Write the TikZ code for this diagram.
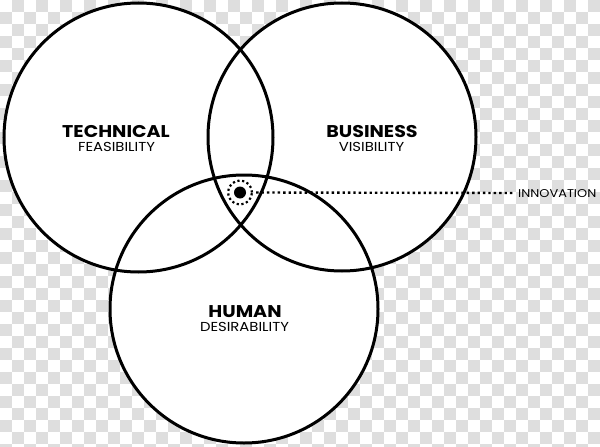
\documentclass[tikz,border=0pt]{standalone}
\usepackage{fontspec}
\setmainfont{Poppins}
\newfontfamily\headfont[FakeStretch=1.12]{Poppins}
\newfontfamily\subfont[FakeStretch=1.14]{Poppins}
\definecolor{checkgray}{HTML}{DEDEDE}
\tikzset{
  venn/.style={line width=3pt, draw=black},
  title/.style={font=\headfont\fontsize{17}{17}\selectfont\bfseries, anchor=base, inner sep=0pt},
  sub/.style={font=\subfont\fontsize{13}{13}\selectfont, anchor=base, inner sep=0pt},
  dotline/.style={line width=2.4pt, dash pattern=on 2.4pt off 3pt},
}
\begin{document}
\begin{tikzpicture}[x=1pt,y=-1pt]
\useasboundingbox (0,0) rectangle (600,447);
% checkerboard background
\fill[white] (0,0) rectangle (600,447);
\foreach \i in {0,...,49}{
  \foreach \j in {0,...,37}{
    \pgfmathtruncatemacro{\myparity}{mod(\i+\j,2)}
    \ifnum\myparity=1
      \fill[checkgray] (\i*12,\j*12) rectangle ++(12,12);
    \fi
  }
}
% circles
\coordinate (ct) at (138.5,137.5);
\coordinate (cb) at (342,137);
\coordinate (ch) at (244,309);
\fill[white] (ct) circle (134.5);
\fill[white] (cb) circle (134);
\fill[white] (ch) circle (134);
\draw[venn] (ct) circle (134.5);
\draw[venn] (cb) circle (134);
\draw[venn] (ch) circle (134);
% labels
\node[title] (tt) at (116,137) {TECHNICAL};
\node[sub] (ts) at (116.5,151) {FEASIBILITY};
\node[title] (bt) at (372,137) {BUSINESS};
\node[sub] (bs) at (371.5,151) {VISIBILITY};
\node[title] (ht) at (245,317) {HUMAN};
\node[sub] (hs) at (244.5,331) {DESIRABILITY};
% innovation
\node[circle, fill=black, minimum size=12pt, inner sep=0pt] (dot) at (240,192.5) {};
\node[circle, minimum size=24pt, inner sep=0pt, draw, line width=2.2pt, dash pattern=on 2.2pt off 2.6pt] (ring) at (240,192.5) {};
\node[sub, font=\subfont\fontsize{11.3}{11.3}\selectfont, anchor=base west] (inn) at (518,197) {INNOVATION};
\coordinate (lend) at (513,193);
\draw[dotline] (ring.east) ++(3,0) coordinate (lstart) -- (lend);
\end{tikzpicture}
\end{document}
